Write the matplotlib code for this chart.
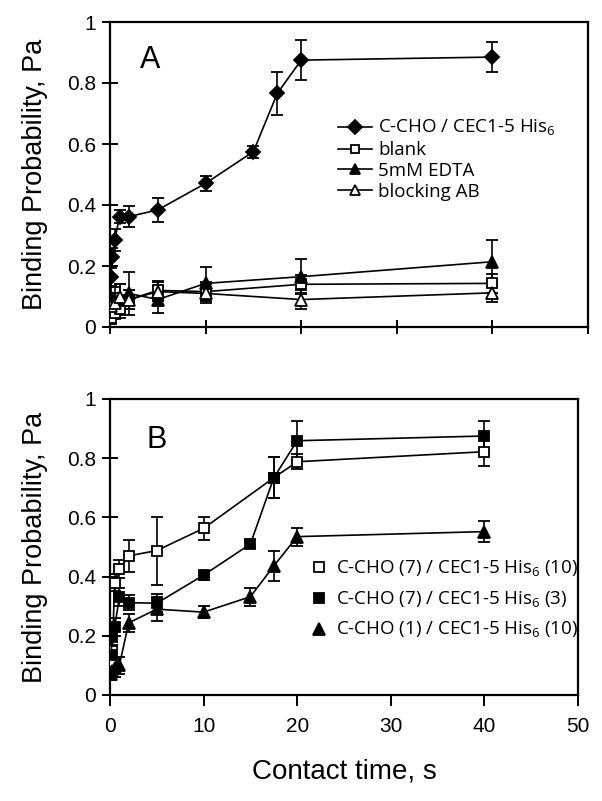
import numpy as np
import matplotlib

matplotlib.use("Agg")
import matplotlib.pyplot as plt
from matplotlib.lines import Line2D

plt.rcParams.update({
    "font.family": ["Liberation Sans", "DejaVu Sans"],
    "mathtext.fontset": "custom",
    "mathtext.rm": "Open Sans",
    "axes.linewidth": 1.6,
    "xtick.major.width": 1.4,
    "ytick.major.width": 1.4,
    "xtick.labelsize": 15,
    "ytick.labelsize": 15,
})
LEGEND_FONT = {"family": "Open Sans", "size": 13.5}

# ---- panel A ---------------------------------------------------------------- #
T_LONG = [0.1, 0.25, 0.5, 1, 2, 5, 10, 15, 17.5, 20, 40]
HIS6 = [0.165, 0.23, 0.285, 0.362, 0.362, 0.384, 0.471, 0.575, 0.766, 0.875, 0.885]
HIS6_ERR = [0.03, 0.03, 0.035, 0.02, 0.035, 0.04, 0.025, 0.02, 0.07, 0.066, 0.05]

T_SHORT = [0.1, 0.5, 1, 2, 5, 10, 20, 40]
BLANK = [0.03, 0.045, 0.06, 0.09, 0.12, 0.116, 0.14, 0.143]
BLANK_ERR = [0.02, 0.02, 0.03, 0.03, 0.03, 0.03, 0.03, 0.03]
EDTA = [0.1, 0.09, 0.09, 0.11, 0.09, 0.143, 0.165, 0.214]
EDTA_ERR = [0.03, 0.04, 0.05, 0.07, 0.045, 0.055, 0.057, 0.07]
BLOCK = [0.07, 0.08, 0.1, 0.09, 0.116, 0.11, 0.09, 0.112]
BLOCK_ERR = [0.03, 0.03, 0.04, 0.03, 0.03, 0.03, 0.03, 0.03]

# ---- panel B ---------------------------------------------------------------- #
T_B = [0.1, 0.25, 0.5, 1, 2, 5, 10, 17.5, 20, 40]
C7_10 = [0.11, 0.15, 0.38, 0.425, 0.47, 0.488, 0.563, 0.734, 0.788, 0.822]
C7_10_ERR = [0.02, 0.03, 0.03, 0.03, 0.055, 0.115, 0.04, 0.07, 0.025, 0.05]
T_B3 = [0.1, 0.25, 0.5, 1, 2, 5, 10, 15, 17.5, 20, 40]
C7_3 = [0.135, 0.2, 0.23, 0.33, 0.312, 0.31, 0.405, 0.51, 0.734, 0.859, 0.875]
C7_3_ERR = [0.02, 0.03, 0.03, 0.03, 0.025, 0.03, 0.015, 0.015, 0.07, 0.065, 0.05]
C1_10 = [0.07, 0.08, 0.09, 0.10, 0.244, 0.29, 0.28, 0.332, 0.436, 0.535, 0.552]
C1_10_ERR = [0.02, 0.02, 0.03, 0.03, 0.03, 0.04, 0.02, 0.03, 0.05, 0.03, 0.035]

X_TICKS = [0, 10, 20, 30, 40, 50]
Y_TICKS = [0, 0.2, 0.4, 0.6, 0.8, 1]
Y_LABELS = ["0", "0.2", "0.4", "0.6", "0.8", "1"]

W, H = 602, 801
fig = plt.figure(figsize=(W / 100, H / 100), dpi=100)
ax_a = fig.add_axes([110 / W, 1 - 327 / H, 478 / W, 305 / H])
ax_b = fig.add_axes([110 / W, 1 - 695 / H, 468 / W, 296 / H])


def series(ax, t, v, e, marker, face, ms):
    ax.errorbar(t, v, yerr=e, color="black", marker=marker, mfc=face, mec="black",
                ms=ms, mew=1.3, lw=1.2, elinewidth=1.2, capsize=4, capthick=1.2,
                zorder=3)


def handle(marker, face, ms, ls="-"):
    return Line2D([], [], color="black", lw=1.2, ls=ls, marker=marker, mfc=face,
                  mec="black", ms=ms, mew=1.3)


def style(ax):
    ax.set_xlim(0, 50)
    ax.set_ylim(0, 1)
    ax.set_xticks(X_TICKS)
    ax.set_yticks(Y_TICKS)
    ax.set_yticklabels(Y_LABELS)
    ax.tick_params(axis="y", direction="inout", length=12, pad=4)
    ax.set_ylabel("Binding Probability, Pa", fontsize=19.5)


his = r"His$_{6}$"
series(ax_a, T_LONG, HIS6, HIS6_ERR, "D", "black", 7)
series(ax_a, T_SHORT, BLANK, BLANK_ERR, "s", "white", 6.5)
series(ax_a, T_SHORT, EDTA, EDTA_ERR, "^", "black", 8)
series(ax_a, T_SHORT, BLOCK, BLOCK_ERR, "^", "white", 8)
style(ax_a)
ax_a.tick_params(axis="x", direction="inout", length=10, labelbottom=False)
ax_a.yaxis.set_label_coords(-0.13, 0.5)
ax_a.text(0.084, 0.875, "A", transform=ax_a.transAxes, fontsize=22,
          ha="center", va="center")
ax_a.legend([handle("D", "black", 7), handle("s", "white", 6),
             handle("^", "black", 7.5), handle("^", "white", 7.5)],
            [f"C-CHO / CEC1-5 {his}", "blank", "5mM EDTA", "blocking AB"],
            loc="upper left", bbox_to_anchor=(0.477, 0.685), frameon=False,
            prop=LEGEND_FONT, handlelength=1.8, handletextpad=0.35,
            labelspacing=0.15, borderpad=0, borderaxespad=0)

series(ax_b, T_B, C7_10, C7_10_ERR, "s", "white", 7.5)
series(ax_b, T_B3, C7_3, C7_3_ERR, "s", "black", 7.5)
series(ax_b, T_B3, C1_10, C1_10_ERR, "^", "black", 9)
style(ax_b)
ax_b.tick_params(axis="x", direction="out", length=8, pad=8)
ax_b.yaxis.set_label_coords(-0.133, 0.5)
ax_b.set_xlabel("Contact time, s", fontsize=20, labelpad=16)
ax_b.text(0.10, 0.86, "B", transform=ax_b.transAxes, fontsize=22,
          ha="center", va="center")
ax_b.legend([handle("s", "white", 7, "none"), handle("s", "black", 7, "none"),
             handle("^", "black", 9, "none")],
            [f"C-CHO (7) / CEC1-5 {his} (10)", f"C-CHO (7) / CEC1-5 {his} (3)",
             f"C-CHO (1) / CEC1-5 {his} (10)"],
            loc="upper left", bbox_to_anchor=(0.43, 0.46),
            frameon=False, prop=LEGEND_FONT, handlelength=0.8, handletextpad=0.5,
            labelspacing=0.55, borderpad=0, borderaxespad=0)

fig.savefig("out.png", dpi=100)
